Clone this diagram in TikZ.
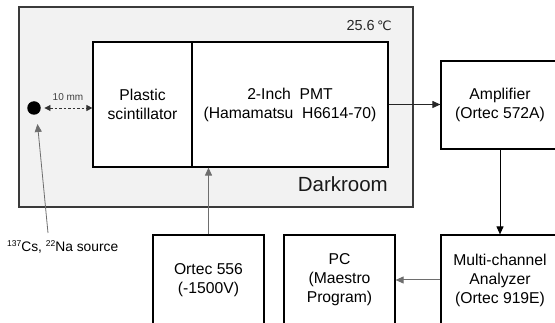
\documentclass[tikz,border=0pt]{standalone}
\usepackage{fontspec}
\setmainfont{Liberation Sans}
\newfontfamily\djv{DejaVu Sans}
\usetikzlibrary{arrows.meta}
\definecolor{roomfill}{HTML}{F2F2F2}
\definecolor{roomline}{HTML}{3A3A3A}
\definecolor{conngray}{HTML}{6E6E6E}
\tikzset{
  box/.style={draw=black, line width=1.2pt, fill=white, rectangle, inner sep=0pt, align=center,
    font=\fontsize{15.7}{19}\selectfont},
  arr/.style={line width=1pt, -{Triangle[length=8pt,width=7pt]}},
}
\begin{document}
\begin{tikzpicture}[x=1pt,y=-1pt]
\useasboundingbox (0,0) rectangle (555,323);
% darkroom
\node[draw=roomline, line width=1.5pt, fill=roomfill, rectangle, inner sep=0pt,
  minimum width=394pt, minimum height=200pt] (room) at (216,107) {};
\node[box, minimum width=99pt, minimum height=125pt] (scint) at (142.5,104.5) {Plastic\\scintillator};
\node[box, minimum width=196pt, minimum height=125pt] (pmt) at (290,104.5) {2-Inch~~PMT\\(Hamamatsu~~H6614-70)};
\node[anchor=base east, inner sep=0pt, font=\fontsize{20.5}{21}\selectfont, text=black!90] (dark) at (388,192) {Darkroom};
\node[anchor=base east, inner sep=0pt, font=\fontsize{14.5}{16}\selectfont, text=black!85] (temp) at (392,31) {25.6\,{\djv\fontsize{13}{14}\selectfont ℃}};
% source
\node[circle, fill=black, minimum size=13.5pt, inner sep=0pt] (src) at (34,108) {};
\node[inner sep=0pt, font=\fontsize{10}{12}\selectfont, text=black!75] (mm) at (68,97) {10 mm};
\draw[line width=0.9pt, dashed, dash pattern=on 2.5pt off 2pt, black!80,
  {Triangle[length=6pt,width=6pt]}-{Triangle[length=6pt,width=6pt]}]
  ([xshift=3.5pt]src.east) -- (scint.west |- src.east);
\node[anchor=west, inner sep=0pt, font=\fontsize{13.8}{15}\selectfont] (srclab) at (7,247)
  {{\fontsize{8.5}{9}\selectfont\raisebox{4.5pt}{137}}Cs, {\fontsize{8.5}{9}\selectfont\raisebox{4.5pt}{22}}Na source};
\coordinate (srctail) at (48,233);
\coordinate (srctip) at (37.5,124);
\draw[line width=0.8pt, conngray, -{Triangle[length=8pt,width=7pt]}] (srctail) -- (srctip);
% right side
\node[box, minimum width=118pt, minimum height=88pt] (amp) at (500,105) {Amplifier\\(Ortec 572A)};
\node[box, minimum width=111pt, minimum height=90pt] (hv) at (208.5,280) {Ortec 556\\(-1500V)};
\node[box, minimum width=111pt, minimum height=90pt] (pc) at (339.5,280) {PC\\(Maestro\\Program)};
\node[box, minimum width=118pt, minimum height=90pt] (mca) at (500,280) {Multi-channel\\Analyzer\\(Ortec 919E)};
% connectors
\draw[arr, conngray] (hv.north) -- (hv.north |- pmt.south);
\draw[arr, black!85] (pmt.east) -- (pmt.east -| amp.west);
\draw[arr, black] (amp.south) -- (mca.north);
\draw[arr, conngray] (mca.west) -- (pc.east);
\end{tikzpicture}
\end{document}
